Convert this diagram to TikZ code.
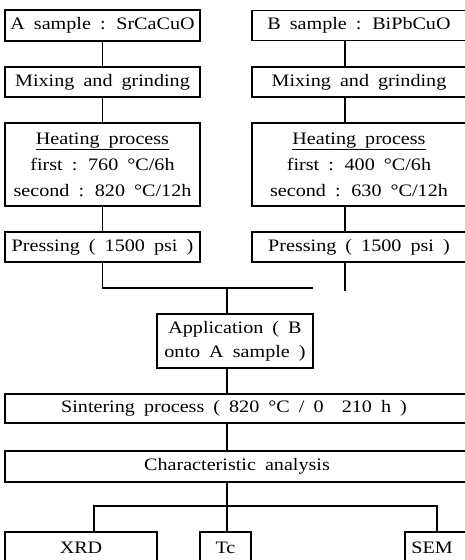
\documentclass[tikz,border=0pt]{standalone}
\usepackage{fontspec}
\setmainfont{Liberation Serif}[FakeStretch=1.15,WordSpace={1.8}]
\begin{document}
\begin{tikzpicture}[x=1pt,y=-1pt,
  txt/.style={font=\fontsize{17.5}{21}\selectfont,align=center},
  box/.style={draw,line width=1.6pt,inner sep=0pt,txt},
  conn/.style={line width=1.6pt}]
\useasboundingbox (0,0) rectangle (465,560);
\clip (0,0) rectangle (465,560);
% left column
\node[box,minimum width=195pt,minimum height=31pt] (a1) at (102.5,25.5) {A sample : SrCaCuO};
\node[box,minimum width=195pt,minimum height=30pt] (a2) at (102.5,82) {Mixing and grinding};
\node[box,minimum width=195pt,minimum height=83pt] (a3) at (102.5,164.5) {\underline{Heating process}\\[5pt] first : 760 °C/6h\\[5pt] second : 820 °C/12h};
\node[box,minimum width=195pt,minimum height=30pt] (a4) at (102.5,247) {Pressing ( 1500 psi )};
% right column
\node[box,minimum width=218pt,minimum height=30pt] (b1) at (361,25.5) {};
\node[txt] at (359,25.5) {B sample : BiPbCuO};
\node[box,minimum width=218pt,minimum height=30pt] (b2) at (361,82) {};
\node[txt] at (359,82) {Mixing and grinding};
\node[box,minimum width=218pt,minimum height=83pt] (b3) at (361,164.5) {};
\node[txt] at (359,164.5) {\underline{Heating process}\\[5pt] first : 400 °C/6h\\[5pt] second : 630 °C/12h};
\node[box,minimum width=218pt,minimum height=30pt] (b4) at (361,247) {};
\node[txt] at (359,247) {Pressing ( 1500 psi )};
% middle
\node[box,minimum width=156pt,minimum height=54pt] (ap) at (235,341) {Application ( B\\[3pt] onto A sample )};
\node[box,minimum width=465pt,minimum height=29pt] (si) at (237.5,408.5) {};
\node[txt] at (234,408.5) {Sintering process ( 820 °C / 0 \ 210 h )};
\node[box,minimum width=465pt,minimum height=31pt] (ch) at (237.5,466.5) {};
\node[txt] at (237,466.5) {Characteristic analysis};
% bottom
\node[box,minimum width=152pt,minimum height=32pt] (xrd) at (81,548) {XRD};
\node[box,minimum width=51pt,minimum height=32pt] (tc) at (225.5,548) {Tc};
\node[box,minimum width=65pt,minimum height=32pt] (sem) at (437.5,548) {};
\node[txt] at (432,548) {SEM};
% coordinates
\coordinate (bx) at (345,0);
\coordinate (jc) at (227,288);
\coordinate (jr) at (313,288);
\coordinate (bend) at (345,291);
\coordinate (xl) at (94,506);
\coordinate (xr) at (437,506);
% connectors
\draw[conn] (a1.south) -- (a2.north);
\draw[conn] (a2.south) -- (a3.north);
\draw[conn] (a3.south) -- (a4.north);
\draw[conn] (b1.south -| bx) -- (b2.north -| bx);
\draw[conn] (b2.south -| bx) -- (b3.north -| bx);
\draw[conn] (b3.south -| bx) -- (b4.north -| bx);
\draw[conn] (a4.south) |- (jr);
\draw[conn] (b4.south -| bx) -- (bend);
\draw[conn] (jc) -- (ap.north -| jc);
\draw[conn] (ap.south -| jc) -- (si.north -| jc);
\draw[conn] (si.south -| jc) -- (ch.north -| jc);
\draw[conn] (ch.south -| jc) -- (tc.north -| jc);
\draw[conn] (xrd.north -| xl) -- (xl) -- (xr) -- (sem.north -| xr);
\end{tikzpicture}
\end{document}
